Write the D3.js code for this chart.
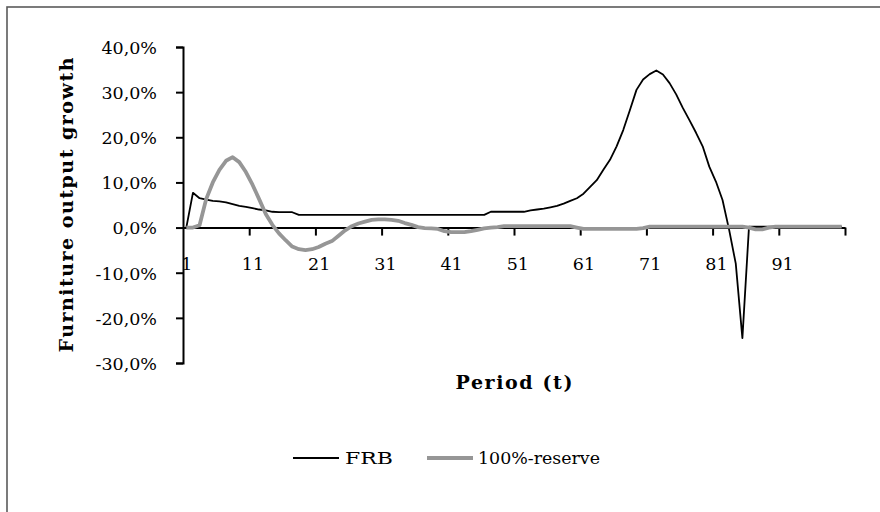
<!DOCTYPE html>
<html>
<head>
<meta charset="utf-8">
<script src="https://cdn.jsdelivr.net/npm/d3@7"></script>
<style>
  html, body { margin: 0; padding: 0; background: #fff; }
  svg { display: block; }
  text { font-family: "DejaVu Serif", serif; fill: #000; }
</style>
</head>
<body>
<svg id="chart" width="880" height="512"></svg>
<script>
// ---------- data ----------
const periods = d3.range(1, 101);
const frb = [
  0, 7.7, 6.5, 6.2, 5.9, 5.8, 5.6, 5.2, 4.8, 4.6,
  4.3, 4.0, 3.8, 3.5, 3.4, 3.4, 3.4, 2.8, 2.8, 2.8,
  2.8, 2.8, 2.8, 2.8, 2.8, 2.8, 2.8, 2.8, 2.8, 2.8,
  2.8, 2.8, 2.8, 2.8, 2.8, 2.8, 2.8, 2.8, 2.8, 2.8,
  2.8, 2.8, 2.8, 2.8, 2.8, 2.8, 3.5, 3.5, 3.5, 3.5,
  3.5, 3.5, 3.8, 4.0, 4.2, 4.5, 4.8, 5.3, 5.9, 6.5,
  7.5, 9.0, 10.5, 12.8, 15.0, 18.0, 21.6, 26.0, 30.5, 32.8,
  34.0, 34.8, 33.9, 32.0, 29.5, 26.5, 23.8, 21.0, 18.0, 13.5,
  10.2, 6.1, -0.5, -8.0, -24.5, 0.2, 0.2, 0.2, 0.2, 0.2,
  0.2, 0.2, 0.2, 0.2, 0.2, 0.2, 0.2, 0.2, 0.2, 0.2
];
const reserve100 = [
  0, 0, 0.5, 6.3, 10.0, 12.8, 14.8, 15.6, 14.5, 12.3,
  9.5, 6.3, 3.0, 0.6, -1.3, -2.8, -4.2, -4.8, -5.0, -4.8,
  -4.3, -3.6, -3.0, -1.8, -0.6, 0.3, 0.9, 1.3, 1.7, 1.8,
  1.8, 1.7, 1.5, 1.0, 0.6, 0.1, -0.1, -0.2, -0.3, -0.8,
  -1.0, -1.0, -1.0, -0.8, -0.5, -0.2, 0.0, 0.1, 0.3, 0.3,
  0.3, 0.3, 0.3, 0.3, 0.3, 0.3, 0.3, 0.3, 0.3, 0.0,
  -0.3, -0.3, -0.3, -0.3, -0.3, -0.3, -0.3, -0.3, -0.3, -0.1,
  0.2, 0.2, 0.2, 0.2, 0.2, 0.2, 0.2, 0.2, 0.2, 0.2,
  0.2, 0.2, 0.2, 0.2, 0.2, 0.0, -0.4, -0.4, 0.0, 0.2,
  0.2, 0.2, 0.2, 0.2, 0.2, 0.2, 0.2, 0.2, 0.2, 0.2
];
const xTickLabels = [1, 11, 21, 31, 41, 51, 61, 71, 81, 91];
const xTickBoundaries = [10, 20, 30, 40, 50, 60, 70, 80, 90, 100];
const yTicks = [-30, -20, -10, 0, 10, 20, 30, 40];
const seriesNames = ["FRB", "100%-reserve"];
const yTitle = "Furniture output growth";
const xTitle = "Period (t)";

// ---------- layout ----------
const FONT = '"DejaVu Serif", serif';
const svg = d3.select("#chart");
const x = d3.scaleLinear().domain([0, 100]).range([183, 845]);
const y = d3.scaleLinear().domain([-30, 40]).range([363, 47]);
const px = i => x(i - 0.5);

// outer border (only top/left visible)
svg.append("rect")
  .attr("x", 7).attr("y", 7).attr("width", 1000).attr("height", 1000)
  .attr("fill", "none").attr("stroke", "#5a5a5a").attr("stroke-width", 1.6);

// y axis
const yAxis = d3.axisLeft(y).tickValues(yTicks).tickSize(7).tickPadding(19)
  .tickFormat(d => d3.format(".1f")(d).replace("\u2212", "-").replace(".", ",") + "%");
const gy = svg.append("g").attr("transform", `translate(${x(0)},0)`).call(yAxis);
gy.select(".domain").attr("stroke", "#000").attr("stroke-width", 2);
gy.selectAll(".tick line").attr("stroke", "#000").attr("stroke-width", 2);
gy.selectAll(".tick text").style("font-size", "17.5px").style("font-family", FONT).attr("dy", "0.36em");

// x axis (tick marks at category boundaries)
const xAxisMarks = d3.axisBottom(x).tickValues(xTickBoundaries).tickSize(8).tickFormat("").tickSizeOuter(0);
const gx = svg.append("g").attr("transform", `translate(0,${y(0)})`).call(xAxisMarks);
gx.select(".domain").attr("stroke", "#000").attr("stroke-width", 2);
gx.selectAll(".tick line").attr("stroke", "#000").attr("stroke-width", 2);

// x labels at category centres
const xAxisLabels = d3.axisBottom(x).tickValues(xTickLabels.map(d => d - 0.5))
  .tickSize(0).tickPadding(30).tickFormat(d => String(d + 0.5));
const gxl = svg.append("g").attr("transform", `translate(0,${y(0)})`).call(xAxisLabels);
gxl.select(".domain").remove();
gxl.selectAll(".tick text").style("font-size", "17.5px").style("font-family", FONT);

// lines
const line = d3.line().x((d, i) => px(periods[i])).y(d => y(d));
svg.append("path").datum(frb).attr("d", line)
  .attr("fill", "none").attr("stroke", "#000").attr("stroke-width", 1.8).attr("stroke-linejoin", "round");
svg.append("path").datum(reserve100).attr("d", line)
  .attr("fill", "none").attr("stroke", "#969696").attr("stroke-width", 3.8).attr("stroke-linejoin", "round");

// axis titles
svg.append("text")
  .attr("transform", `translate(73,205) rotate(-90)`)
  .attr("text-anchor", "middle")
  .attr("textLength", 295).attr("lengthAdjust", "spacing")
  .style("font-size", "19px").style("font-weight", "bold")
  .text(yTitle);
svg.append("text")
  .attr("x", 514).attr("y", 389)
  .attr("text-anchor", "middle")
  .attr("textLength", 117).attr("lengthAdjust", "spacing")
  .style("font-size", "19px").style("font-weight", "bold")
  .text(xTitle);

// legend
const legend = [
  { name: seriesNames[0], color: "#000", width: 1.8, x0: 293, tx: 345, tl: 48 },
  { name: seriesNames[1], color: "#969696", width: 3.8, x0: 427, tx: 478, tl: 122 }
];
const lg = svg.append("g");
legend.forEach(l => {
  lg.append("line").attr("x1", l.x0).attr("x2", l.x0 + 46).attr("y1", 458).attr("y2", 458)
    .attr("stroke", l.color).attr("stroke-width", l.width);
  lg.append("text").attr("x", l.tx).attr("y", 464)
    .attr("textLength", l.tl).attr("lengthAdjust", "spacingAndGlyphs")
    .style("font-size", "17.5px").text(l.name);
});
</script>
</body>
</html>
